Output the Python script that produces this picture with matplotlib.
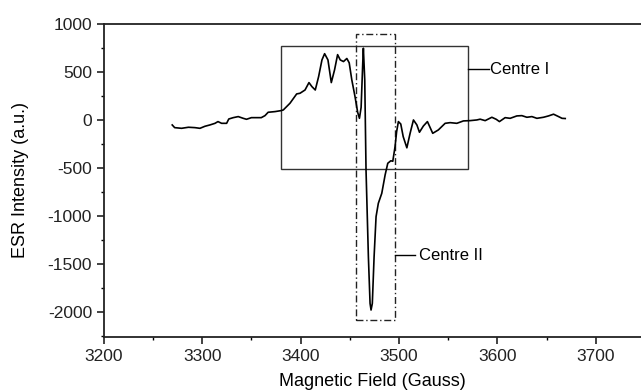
import matplotlib
matplotlib.use("Agg")
import matplotlib.pyplot as plt
from matplotlib.patches import Rectangle
from matplotlib.ticker import MultipleLocator

plt.rcParams["font.family"] = ["Liberation Sans", "DejaVu Sans"]
plt.rcParams["axes.unicode_minus"] = False

# ESR spectrum, field in Gauss vs intensity in a.u.
field = [
    3269.5, 3272, 3279, 3286, 3292.6, 3297.7, 3302.7, 3307.8, 3313, 3316,
    3319.7, 3324.8, 3327, 3331.5, 3336.6, 3341.7, 3345, 3350, 3355, 3360,
    3363.8, 3367, 3374, 3380, 3382.4, 3389.2, 3396, 3399.4, 3404.5, 3408.5,
    3411.5, 3414.9, 3418.3, 3421.7, 3424.4, 3427.8, 3431.2, 3434.5, 3437.6, 3440.3,
    3443.6, 3447, 3449.4, 3452, 3455.3, 3458, 3459.8, 3461.5, 3463.2, 3463.8,
    3465.2, 3466.5, 3468.9, 3470.6, 3471.6, 3472.9, 3474.7, 3476.7, 3479, 3482.5,
    3485.9, 3488.6, 3491.7, 3493.7, 3496, 3497.6, 3499.4, 3501.8, 3504.3, 3508,
    3511.3, 3514.7, 3518.2, 3520.8, 3524.8, 3528.9, 3534.3, 3540, 3546.9, 3552,
    3558.8, 3565.5, 3572.3, 3579.1, 3582.5, 3587.6, 3594.4, 3598.8, 3602.1, 3607.9,
    3613, 3619.8, 3624.9, 3630, 3635.1, 3640.2, 3646.9, 3652, 3657.1, 3662.2,
    3665.7, 3669,
]
intensity = [
    -52, -80, -87, -76, -80, -87, -66, -52, -35, -17,
    -35, -35, 10, 24, 35, 17, 7, 24, 24, 24,
    45, 80, 87, 97, 104, 174, 271, 278, 312, 389,
    347, 312, 451, 625, 690, 625, 389, 521, 680, 625,
    608, 640, 595, 420, 243, 80, 17, 130, 600, 747,
    417, -521, -1424, -1910, -1979, -1910, -1424, -1007, -868, -764,
    -573, -451, -425, -430, -278, -122, -17, -42, -174, -290,
    -139, 0, -52, -128, -63, -17, -139, -104, -35, -28,
    -35, -10, -7, 0, 8, -7, 28, 7, -17, 24,
    17, 42, 45, 28, 35, 17, 28, 42, 60, 35,
    17, 15,
]

# boxes marking the two paramagnetic centres: (x0, x1, y0, y1)
centre1_box = (3380, 3570, -510, 775)
centre2_box = (3456, 3495.5, -2083, 890)

fig = plt.figure(figsize=(6.41, 3.92), dpi=100)
ax = fig.add_axes([0.162, 0.141, 0.838, 0.798])

ax.plot(field, intensity, color="black", lw=1.2, solid_joinstyle="round")

x0, x1, y0, y1 = centre1_box
ax.add_patch(Rectangle((x0, y0), x1 - x0, y1 - y0, fill=False,
                       ec="#333333", lw=1.0))
x0, x1, y0, y1 = centre2_box
ax.add_patch(Rectangle((x0, y0), x1 - x0, y1 - y0, fill=False,
                       ec="#222222", lw=1.0, ls=(0, (5, 2, 1, 2))))

# callout lines and labels
ax.plot([3570, 3591], [530, 530], color="black", lw=1.0)
ax.text(3593, 530, "Centre I", fontsize=12, va="center", ha="left")
ax.plot([3495.5, 3516], [-1410, -1410], color="black", lw=1.0)
ax.text(3520, -1410, "Centre II", fontsize=12, va="center", ha="left")

ax.set_xlim(3200, 3746)
ax.set_ylim(-2257, 1000)
ax.xaxis.set_major_locator(MultipleLocator(100))
ax.xaxis.set_minor_locator(MultipleLocator(50))
ax.yaxis.set_major_locator(MultipleLocator(500))
ax.yaxis.set_minor_locator(MultipleLocator(250))

ax.spines["right"].set_visible(False)
for side in ("left", "bottom", "top"):
    ax.spines[side].set_linewidth(1.3)
    ax.spines[side].set_color("#222222")

ax.tick_params(which="major", direction="out", length=5, width=1.2,
               labelsize=12.5, colors="#222222")
ax.tick_params(which="minor", direction="out", length=2.5, width=1.0)
ax.tick_params(top=False, right=False, which="both")

ax.set_xlabel("Magnetic Field (Gauss)", fontsize=13, labelpad=7)
ax.set_ylabel("ESR Intensity (a.u.)", fontsize=13, labelpad=13)

fig.savefig("out.png", dpi=100)
